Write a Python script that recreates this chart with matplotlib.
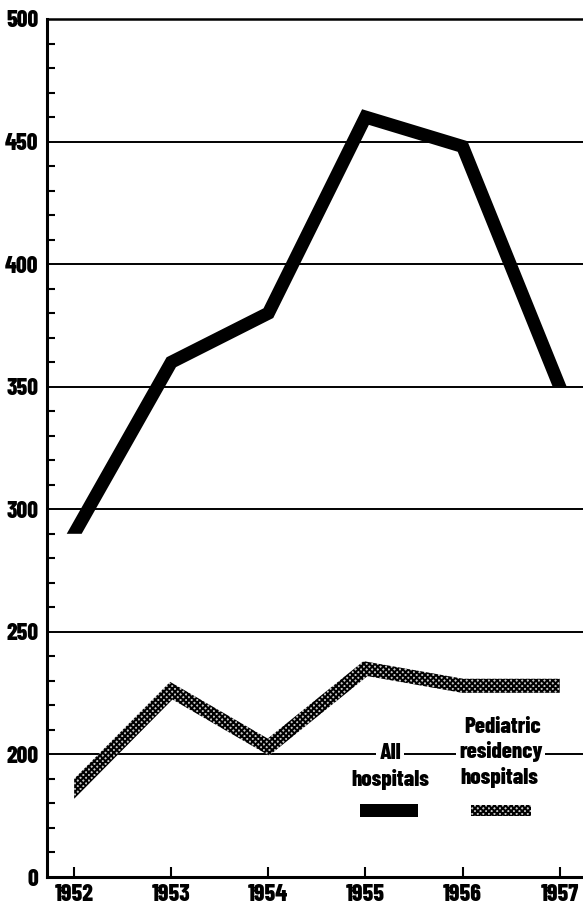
import numpy as np
import matplotlib
matplotlib.use('Agg')
import matplotlib.pyplot as plt
from matplotlib.patches import Polygon, Rectangle
from matplotlib.ticker import MultipleLocator

# data (the "0" label sits where 150 would be: broken axis)
years = [1952, 1953, 1954, 1955, 1956, 1957]
all_hosp = [290, 360, 380, 460, 448, 350]
ped_hosp = [186, 226, 203, 235, 228, 228]
ytick_vals = [150, 200, 250, 300, 350, 400, 450, 500]
ytick_labels = ['0', '200', '250', '300', '350', '400', '450', '500']

plt.rcParams['font.family'] = ['Barlow Condensed', 'DejaVu Sans']
plt.rcParams['font.weight'] = 800
plt.rcParams['hatch.linewidth'] = 1.4

fig = plt.figure(figsize=(5.83, 9.09), dpi=100)
ax = fig.add_axes([0.0806, 0.0352, 0.9194, 0.9439])
ax.set_xlim(1951.72, 1957.24)
ax.set_ylim(150, 500)

for s in ['left', 'bottom']:
    ax.spines[s].set_linewidth(2.2)
ax.spines['top'].set_linewidth(1.8)
ax.spines['right'].set_visible(False)

ax.set_yticks(ytick_vals)
ax.set_yticklabels(ytick_labels)
ax.yaxis.set_minor_locator(MultipleLocator(10))
ax.tick_params(axis='y', which='major', length=0, pad=6, labelsize=17)
ax.tick_params(axis='y', which='minor', direction='in', length=6, width=1.5)
ax.set_xticks(years)
ax.tick_params(axis='x', direction='in', length=7, width=1.5, pad=5, labelsize=17)
for lab in ax.get_xticklabels() + ax.get_yticklabels():
    lab.set_fontweight(800)

for v in ytick_vals[1:-1]:
    ax.axhline(v, color='black', lw=1.4, zorder=1)


def intersect(q1, d1, q2, d2):
    A = np.array([d1, -d2]).T
    t = np.linalg.solve(A, q2 - q1)[0]
    return q1 + t * d1


def band(xs, ys, width_px, cut):
    P = ax.transData.transform(np.column_stack([xs, ys]))
    h = width_px / 2
    sides = []
    for sgn in (1, -1):
        lines = []
        for i in range(len(P) - 1):
            d = P[i + 1] - P[i]
            d = d / np.hypot(*d)
            nrm = np.array([-d[1], d[0]])
            lines.append((P[i] + sgn * h * nrm, d))
        pts = [intersect(*lines[0], P[0], cut)]
        for i in range(1, len(lines)):
            pts.append(intersect(*lines[i - 1], *lines[i]))
        pts.append(intersect(*lines[-1], P[-1], cut))
        sides.append(pts)
    poly = np.array(sides[0] + sides[1][::-1])
    return ax.transData.inverted().transform(poly)


hatch = 'xxxxxx'
ax.add_patch(Polygon(band(years, all_hosp, 13, np.array([1.0, 0.0])),
                     closed=True, facecolor='black', edgecolor='black',
                     lw=0, zorder=3))
ax.add_patch(Polygon(band(years, ped_hosp, 14, np.array([0.0, 1.0])),
                     closed=True, facecolor='#c8c8c8', edgecolor='black',
                     hatch=hatch, lw=0, zorder=3))

# legend
tkw = dict(transform=ax.transAxes, ha='center', va='center', fontsize=16.5,
           fontweight=800, zorder=4)
box = dict(facecolor='white', edgecolor='none', pad=2)
ax.text(0.640, 0.1445, 'All', bbox=box, **tkw)
ax.text(0.640, 0.114, 'hospitals', **tkw)
ax.add_patch(Rectangle((0.584, 0.0699), 0.108, 0.0152, transform=ax.transAxes,
                       facecolor='black', edgecolor='black', lw=0, zorder=4))
ax.text(0.850, 0.1748, 'Pediatric', **tkw)
ax.text(0.847, 0.1457, 'residency', bbox=box, **tkw)
ax.text(0.843, 0.1154, 'hospitals', **tkw)
ax.add_patch(Rectangle((0.791, 0.0711), 0.112, 0.0128, transform=ax.transAxes,
                       facecolor='#c8c8c8', edgecolor='black', hatch=hatch,
                       lw=0, zorder=4))

fig.savefig('out.png', dpi=100)
